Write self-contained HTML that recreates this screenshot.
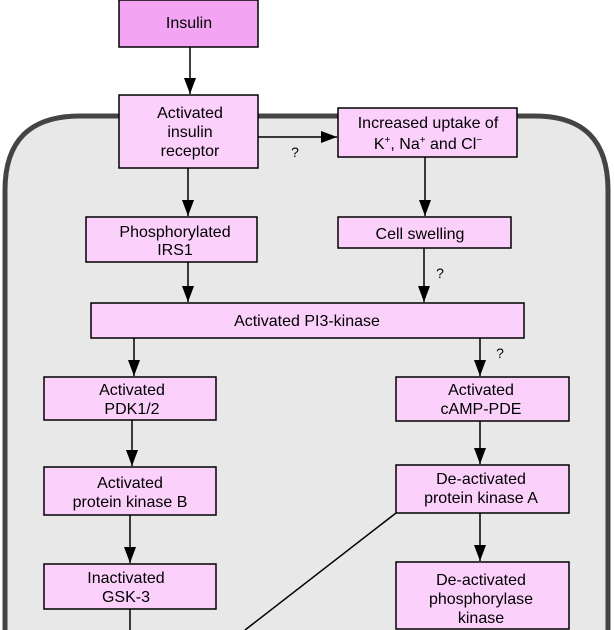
<!DOCTYPE html>
<html><head><style>html,body{margin:0;padding:0;background:#fff;width:614px;height:630px;overflow:hidden}svg{display:block;overflow:hidden}</style></head>
<body>
<svg width="614" height="630" viewBox="0 0 614 630" xmlns="http://www.w3.org/2000/svg" font-family="Liberation Sans, sans-serif" font-size="16" fill="#000">
<defs>
<marker id="b" viewBox="0 0 10 10" markerWidth="16" markerHeight="12" refX="10" refY="5" orient="auto" markerUnits="userSpaceOnUse" preserveAspectRatio="none"><path d="M0,0 L10,5 L0,10 z" fill="#000"/></marker></defs>
<rect x="0" y="0" width="614" height="630" fill="#fff"/>
<path d="M5,632 L5,190 Q5,116 80,116 L535,116 Q608,116 608,190 L608,632" fill="#e8e8e8" stroke="#444" stroke-width="5"/>
<g stroke="#000" stroke-width="1.5" fill="#fbd0fb">
<rect x="119" y="0" width="139" height="47" fill="#f3a5f3"/>
<rect x="119" y="95" width="139" height="73"/>
<rect x="338" y="108" width="179" height="49"/>
<rect x="86" y="217" width="171" height="45"/>
<rect x="338" y="217" width="173" height="31"/>
<rect x="91" y="303" width="433" height="35"/>
<rect x="44" y="377" width="172" height="43"/>
<rect x="396" y="377" width="173" height="44"/>
<rect x="44" y="467" width="172" height="48"/>
<rect x="396" y="465" width="173" height="48"/>
<rect x="44" y="564" width="172" height="45"/>
<rect x="396" y="562" width="173" height="67"/>
</g>
<g stroke="#000" stroke-width="1.5" marker-end="url(#b)">
<line x1="190" y1="47" x2="190" y2="94"/>
<line x1="258" y1="137" x2="337" y2="137"/>
<line x1="188" y1="168" x2="188" y2="216"/>
<line x1="425" y1="157" x2="425" y2="216"/>
<line x1="188" y1="262" x2="188" y2="302"/>
<line x1="424" y1="248" x2="424" y2="302"/>
<line x1="134" y1="338" x2="134" y2="376"/>
<line x1="480" y1="338" x2="480" y2="376"/>
<line x1="132" y1="420" x2="132" y2="466"/>
<line x1="480" y1="421" x2="480" y2="464"/>
<line x1="130" y1="515" x2="130" y2="563"/>
<line x1="480" y1="513" x2="480" y2="561"/>
</g>
<g stroke="#000" stroke-width="1.5">
<line x1="130" y1="609" x2="130" y2="630"/>
<line x1="396" y1="513" x2="245" y2="630"/>
</g>
<g text-anchor="middle">
<text x="189" y="28">Insulin</text>
<text x="190" y="118">Activated</text><text x="190" y="137">insulin</text><text x="190" y="156">receptor</text>
<text x="428" y="128">Increased uptake of</text>
<text x="428" y="149">K<tspan font-size="10" dy="-6">+</tspan><tspan dy="6">, Na</tspan><tspan font-size="10" dy="-6">+</tspan><tspan dy="6"> and Cl</tspan><tspan font-size="10" dy="-6">−</tspan></text>
<text x="175" y="237">Phosphorylated</text><text x="175" y="255">IRS1</text>
<text x="420" y="239">Cell swelling</text>
<text x="307" y="326">Activated PI3-kinase</text>
<text x="132" y="395">Activated</text><text x="132" y="414">PDK1/2</text>
<text x="481" y="395">Activated</text><text x="481" y="414">cAMP-PDE</text>
<text x="130" y="488">Activated</text><text x="130" y="507">protein kinase B</text>
<text x="481" y="484">De-activated</text><text x="481" y="503">protein kinase A</text>
<text x="126" y="583">Inactivated</text><text x="126" y="602">GSK-3</text>
<text x="481" y="585">De-activated</text><text x="481" y="604">phosphorylase</text><text x="481" y="623">kinase</text>
<text x="295" y="157" font-size="14">?</text>
<text x="440" y="278" font-size="14">?</text>
<text x="500" y="358" font-size="14">?</text>
</g>
</svg>
</body></html>
